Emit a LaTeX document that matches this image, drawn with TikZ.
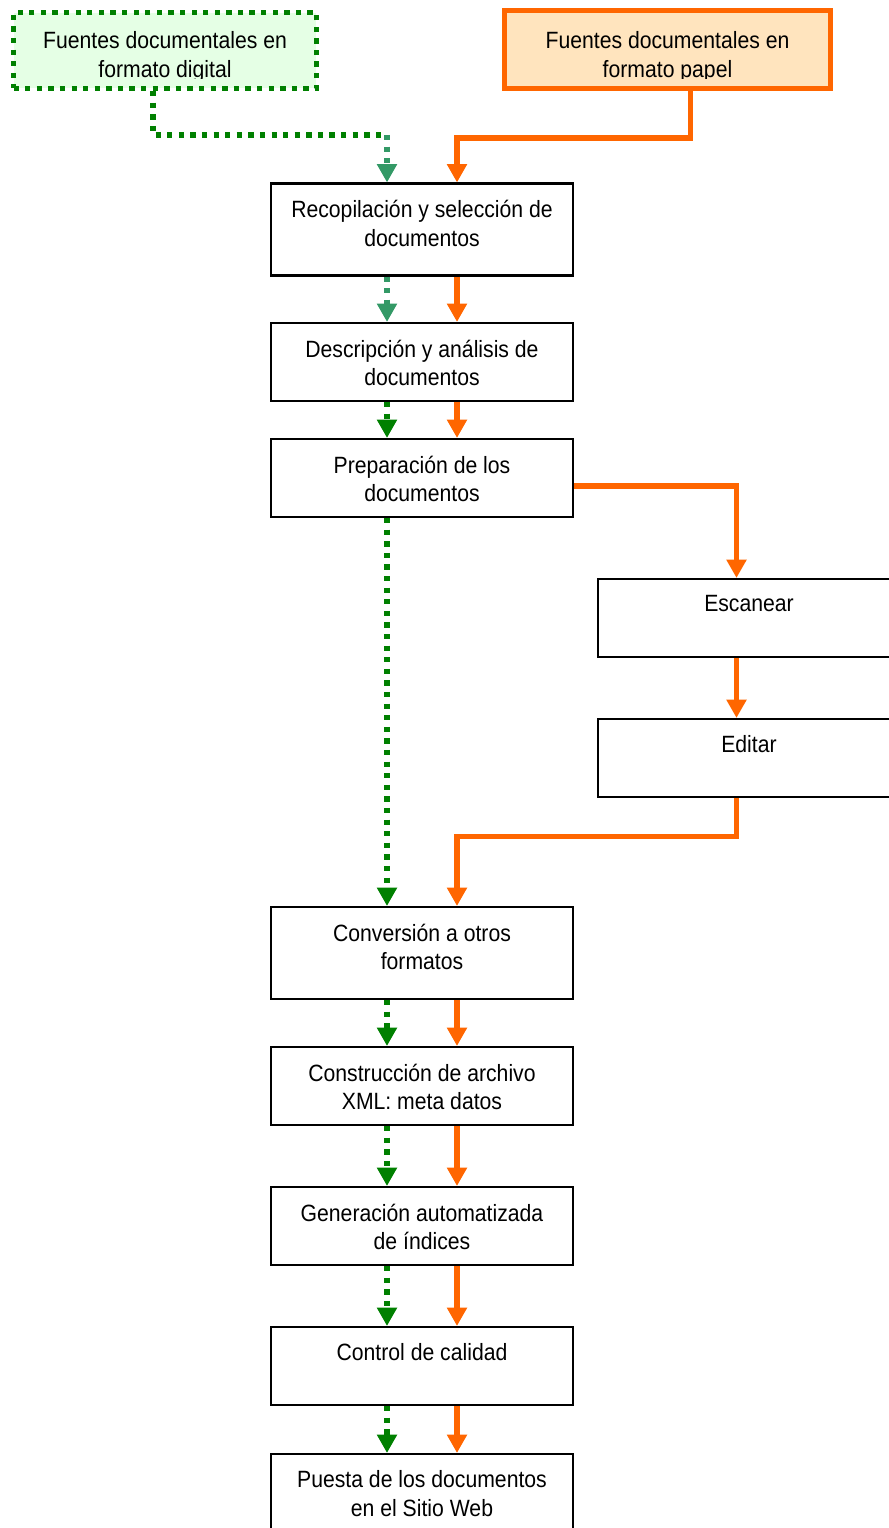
\documentclass[tikz,border=0pt]{standalone}
\usepackage{fontspec}
\setmainfont{Liberation Sans}[FakeStretch=0.9]
\usepackage{tikz}
\usetikzlibrary{arrows.meta, positioning, calc}
\definecolor{papelorange}{RGB}{255,102,0}
\definecolor{papelfill}{RGB}{255,228,190}
\definecolor{digitalgreen}{RGB}{0,128,0}
\definecolor{digitalfill}{RGB}{229,255,229}
\definecolor{tealgreen}{RGB}{51,153,102}
\tikzstyle{stepbox} = [rectangle, draw=black, line width=1.2pt, minimum width=6.04cm, minimum height=1.56cm, inner sep=0pt]
\tikzstyle{steptext} = [align=center, inner sep=0pt, font=\fontsize{13.4}{16.4}\selectfont]
\tikzstyle{paperarrow} = [line width=3pt, color=papelorange, -{Triangle[width=11pt,length=10.5pt]}]
\tikzstyle{paperline} = [line width=3pt, color=papelorange]
\tikzstyle{digitalarrow} = [line width=3pt, color=digitalgreen, dash pattern=on 3pt off 3.6pt, -{Triangle[width=11pt,length=10.5pt]}]
\tikzstyle{digitalline} = [line width=3pt, color=digitalgreen, dash pattern=on 3pt off 3.6pt]
\tikzstyle{tealarrow} = [line width=3pt, color=tealgreen, dash pattern=on 3pt off 3.6pt, -{Triangle[width=11pt,length=10.5pt]}]

\begin{document}
\begin{tikzpicture}[x=0.02cm, y=-0.02cm]
\useasboundingbox (0,0) rectangle (889,1528);

% Sources
\node[rectangle, draw=digitalgreen, fill=digitalfill, line width=3pt, dash pattern=on 3pt off 3.6pt, minimum width=6.06cm, minimum height=1.52cm] (digital) at (165,50.5) {};
\node[rectangle, draw=papelorange, fill=papelfill, line width=3pt, minimum width=6.52cm, minimum height=1.56cm] (paper) at (667.5,49.5) {};

\begin{scope}
\clip (0,0) rectangle (889,78);
\node[steptext, below=12.2pt of digital.north] (digitalT) {Fuentes documentales en\\formato digital};
\node[steptext, below=13.3pt of paper.north] (paperT) {Fuentes documentales en\\formato papel};
\end{scope}

% Main column
\node[stepbox, minimum height=1.84cm] (recop) at (422,229.5) {};
\node[steptext, below=9.9pt of recop.north] (recopT) {Recopilación y selección de\\documentos};

\node[stepbox] (desc) at (422,362) {};
\node[steptext, below=9.9pt of desc.north] (descT) {Descripción y análisis de\\documentos};

\node[stepbox] (prep) at (422,478) {};
\node[steptext, below=9.9pt of prep.north] (prepT) {Preparación de los\\documentos};

% Paper branch
\node[stepbox] (scan) at (749,618) {};
\node[steptext, below=9.9pt of scan.north] (scanT) {Escanear};

\node[stepbox] (edit) at (749,758) {};
\node[steptext, below=9.9pt of edit.north] (editT) {Editar};

\node[stepbox, minimum height=1.84cm] (conv) at (422,953) {};
\node[steptext, below=9.9pt of conv.north] (convT) {Conversión a otros\\formatos};

\node[stepbox] (xml) at (422,1086) {};
\node[steptext, below=9.9pt of xml.north] (xmlT) {Construcción de archivo\\XML: meta datos};

\node[stepbox] (index) at (422,1226) {};
\node[steptext, below=9.9pt of index.north] (indexT) {Generación automatizada\\de índices};

\node[stepbox] (qc) at (422,1366) {};
\node[steptext, below=9.9pt of qc.north] (qcT) {Control de calidad};

\node[stepbox] (web) at (422,1493) {};
\node[steptext, below=9.9pt of web.north] (webT) {Puesta de los documentos\\en el Sitio Web};

% Digital path
\coordinate (gturn) at ($(recop.north)+(-35,-47.5)$);
\draw[digitalline] ($(digital.south)+(-12,0)$) |- (gturn);
\draw[tealarrow] (gturn) -- ($(recop.north)+(-35,0)$);
\draw[tealarrow] ($(recop.south)+(-35,0)$) -- ($(desc.north)+(-35,0)$);
\draw[digitalarrow] ($(desc.south)+(-35,0)$) -- ($(prep.north)+(-35,0)$);
\draw[digitalarrow] ($(prep.south)+(-35,0)$) -- ($(conv.north)+(-35,0)$);
\draw[digitalarrow] ($(conv.south)+(-35,0)$) -- ($(xml.north)+(-35,0)$);
\draw[digitalarrow] ($(xml.south)+(-35,0)$) -- ($(index.north)+(-35,0)$);
\draw[digitalarrow] ($(index.south)+(-35,0)$) -- ($(qc.north)+(-35,0)$);
\draw[digitalarrow] ($(qc.south)+(-35,0)$) -- ($(web.north)+(-35,0)$);

% Paper path
\draw[paperarrow] ($(paper.south)+(23,0)$) -- ++(0,47) -| ($(recop.north)+(35,0)$);
\draw[paperarrow] ($(recop.south)+(35,0)$) -- ($(desc.north)+(35,0)$);
\draw[paperarrow] ($(desc.south)+(35,0)$) -- ($(prep.north)+(35,0)$);
\draw[paperarrow] ($(prep.east)+(0,8)$) -| ($(scan.north)+(-12.5,0)$);
\draw[paperarrow] ($(scan.south)+(-12.5,0)$) -- ($(edit.north)+(-12.5,0)$);
\draw[paperarrow] ($(edit.south)+(-12.5,0)$) -- ++(0,38.5) -| ($(conv.north)+(35,0)$);
\draw[paperarrow] ($(conv.south)+(35,0)$) -- ($(xml.north)+(35,0)$);
\draw[paperarrow] ($(xml.south)+(35,0)$) -- ($(index.north)+(35,0)$);
\draw[paperarrow] ($(index.south)+(35,0)$) -- ($(qc.north)+(35,0)$);
\draw[paperarrow] ($(qc.south)+(35,0)$) -- ($(web.north)+(35,0)$);

\end{tikzpicture}
\end{document}
